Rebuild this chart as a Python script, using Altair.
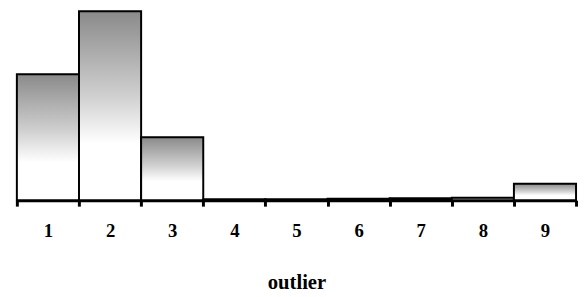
import altair as alt
import pandas as pd

bins = [1, 2, 3, 4, 5, 6, 7, 8, 9]
freq = [40, 60, 20, 0.3, 0.3, 0.5, 0.6, 0.8, 5.2]

df = pd.DataFrame({"bin": bins, "freq": freq})

grad = alt.Gradient(
    gradient="linear",
    stops=[
        alt.GradientStop(color="#8a8a8a", offset=0),
        alt.GradientStop(color="#d0d0d0", offset=0.45),
        alt.GradientStop(color="#ffffff", offset=0.7),
        alt.GradientStop(color="#ffffff", offset=1),
    ],
    x1=0, x2=0, y1=0, y2=1,
)

chart = (
    alt.Chart(df)
    .mark_bar(color=grad, stroke="black", strokeWidth=2)
    .encode(
        x=alt.X(
            "bin:O",
            scale=alt.Scale(paddingInner=0, paddingOuter=0),
            axis=alt.Axis(
                title="outlier",
                labelAngle=0,
                tickBand="extent",
                tickSize=6,
                tickWidth=3,
                tickColor="black",
                domainColor="black",
                domainWidth=3,
                labelFont="Liberation Serif",
                labelFontWeight="bold",
                labelFontSize=19,
                labelColor="black",
                labelPadding=16,
                titleFont="Liberation Serif",
                titleFontWeight="bold",
                titleFontSize=21,
                titleColor="black",
                titlePadding=32,
            ),
        ),
        y=alt.Y("freq:Q", scale=alt.Scale(domain=[0, 60], nice=False), axis=None),
    )
    .properties(
        width=568,
        height=192,
        padding={"left": 7, "top": 0, "right": 1, "bottom": 0},
    )
    .configure_view(stroke=None)
)

chart.save("out.html", embed_options={"renderer": "svg", "actions": False})
